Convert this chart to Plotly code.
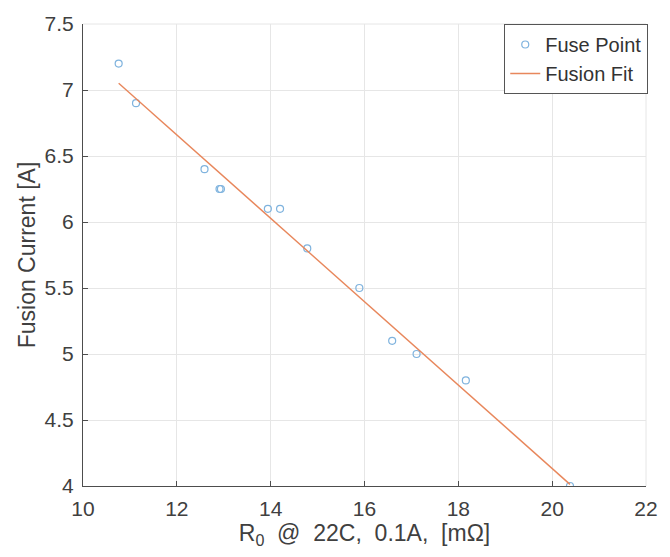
import numpy as np
import plotly.graph_objects as go

# Data
r0_mohm = [10.76, 11.13, 12.59, 12.91, 12.94, 13.94, 14.20, 14.78, 15.89, 16.59, 17.11, 18.16, 20.38]
fusion_current = [7.20, 6.90, 6.40, 6.25, 6.25, 6.10, 6.10, 5.80, 5.50, 5.10, 5.00, 4.80, 4.00]

x_ticks = [10, 12, 14, 16, 18, 20, 22]
y_ticks = [4, 4.5, 5, 5.5, 6, 6.5, 7, 7.5]

# Linear fit
coef = np.polyfit(r0_mohm, fusion_current, 1)
fit_x = np.array([min(r0_mohm), max(r0_mohm)])
fit_y = np.polyval(coef, fit_x)

font_family = "Liberation Sans, Arial, sans-serif"

fig = go.Figure()
fig.add_trace(go.Scatter(
    x=r0_mohm, y=fusion_current, mode="markers", name="Fuse Point",
    marker=dict(symbol="circle-open", size=7, color="#7fb3de", line=dict(width=1.2)),
))
fig.add_trace(go.Scatter(
    x=fit_x, y=fit_y, mode="lines", name="Fusion Fit",
    line=dict(color="#e8875c", width=1.4),
))

axis_common = dict(
    showgrid=True, gridcolor="#e6e6e6", gridwidth=1,
    showline=True, linecolor="#4d4d4d", linewidth=1,
    ticks="inside", ticklen=5, tickcolor="#4d4d4d",
    tickfont=dict(family=font_family, size=21, color="#404040"),
    zeroline=False,
)

fig.update_layout(
    width=670, height=557,
    margin=dict(l=83, r=15, t=16, b=71),
    paper_bgcolor="white", plot_bgcolor="white",
    font=dict(family=font_family, color="#404040"),
    xaxis=dict(range=[10, 22], tickvals=x_ticks, ticktext=[str(v) for v in x_ticks],
               ticklabelstandoff=4,
               title=dict(text="R<sub>0</sub>\u00a0 @\u00a0 22C,\u00a0 0.1A,\u00a0 [m\u03a9]",
                          font=dict(size=23, family=font_family, color="#404040"), standoff=2),
               **axis_common),
    yaxis=dict(range=[4, 7.5], tickvals=y_ticks, ticktext=[f"{v:g}" for v in y_ticks],
               ticklabelstandoff=4,
               title=dict(text="Fusion Current [A]",
                          font=dict(size=23, family=font_family, color="#404040"), standoff=2),
               **axis_common),
    legend=dict(
        x=1.004, y=1.0, xanchor="right", yanchor="top",
        bgcolor="white", bordercolor="#555555", borderwidth=1,
        font=dict(family=font_family, size=20, color="#333333"),
        tracegroupgap=0, itemwidth=30,
    ),
    showlegend=True,
)

# light box on top/right like the MATLAB axes
fig.add_shape(type="line", xref="paper", yref="paper", x0=0, x1=1, y0=1, y1=1,
              line=dict(color="#e6e6e6", width=1))
fig.add_shape(type="line", xref="paper", yref="paper", x0=1, x1=1, y0=0, y1=1,
              line=dict(color="#e6e6e6", width=1))

fig.write_html("out.html")
